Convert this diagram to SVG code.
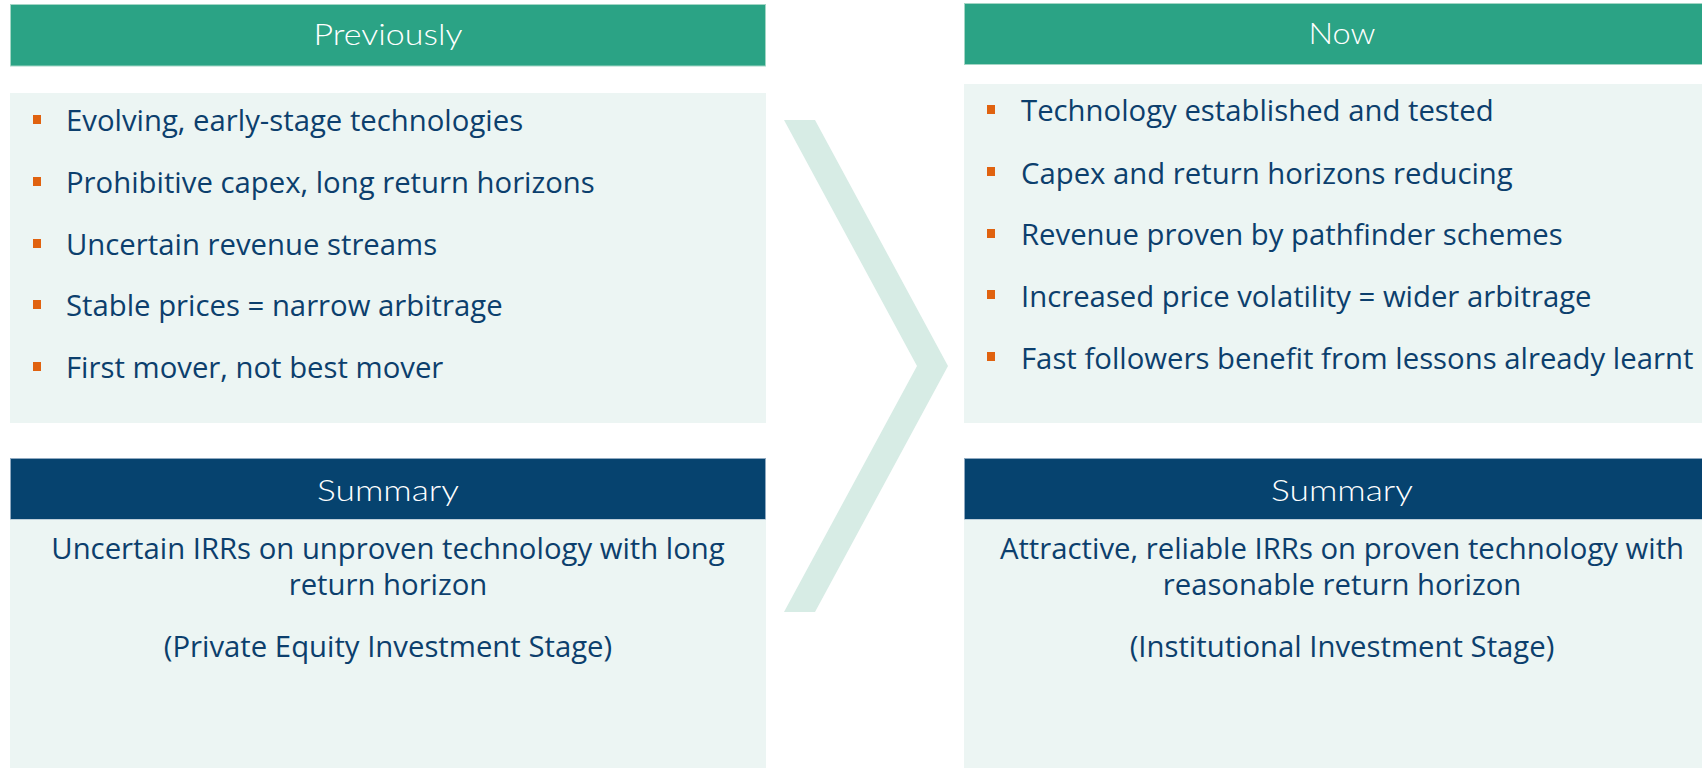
<svg xmlns="http://www.w3.org/2000/svg" width="1702" height="768" viewBox="0 0 1702 768">
<style>
.hdr{fill:#2BA385;stroke:#A3D6C5;stroke-width:1}
.sum{fill:#06436F;stroke:#8FA9C0;stroke-width:1}
.body{fill:#ECF5F3}
.ht{font-family:Lato,"Open Sans",sans-serif;font-weight:300;font-size:30px;fill:#FFFFFF;text-anchor:middle}
.bt{font-family:"Open Sans",sans-serif;font-size:29.3px;fill:#0C3F6D}
.st{font-family:"Open Sans",sans-serif;font-size:29.3px;fill:#0C3F6D;text-anchor:middle}
.bul{fill:#E0620F}
</style>
<rect width="1702" height="768" fill="#FFFFFF"/>
<g id="connectors">
<polygon points="784,120 815,120 948,366 815,612 784,612 917,366" fill="#D7ECE5"/>
</g>
<g id="previously">
<rect class="hdr" x="10.5" y="4.5" width="755" height="61.5"/>
<text class="ht" x="388" y="45" textLength="149" lengthAdjust="spacingAndGlyphs">Previously</text>
</g>
<g id="previously-list">
<rect class="body" x="10" y="93" width="756" height="330"/>
<rect class="bul" x="33" y="115" width="8" height="9"/>
<text class="bt" x="66" y="131">Evolving, early-stage technologies</text>
<rect class="bul" x="33" y="177" width="8" height="9"/>
<text class="bt" x="66" y="193">Prohibitive capex, long return horizons</text>
<rect class="bul" x="33" y="239" width="8" height="9"/>
<text class="bt" x="66" y="255">Uncertain revenue streams</text>
<rect class="bul" x="33" y="300" width="8" height="9"/>
<text class="bt" x="66" y="316">Stable prices = narrow arbitrage</text>
<rect class="bul" x="33" y="362" width="8" height="9"/>
<text class="bt" x="66" y="378">First mover, not best mover</text>
</g>
<g id="summary-left">
<rect class="sum" x="10.5" y="458.5" width="755" height="61"/>
<text class="ht" x="388" y="501" textLength="142" lengthAdjust="spacingAndGlyphs">Summary</text>
<rect class="body" x="10" y="519.5" width="756" height="249"/>
<text class="st" x="388" y="559">Uncertain IRRs on unproven technology with long</text>
<text class="st" x="388" y="595">return horizon</text>
<text class="st" x="388" y="657">(Private Equity Investment Stage)</text>
</g>
<g id="now">
<rect class="hdr" x="964.5" y="3.5" width="755" height="61"/>
<text class="ht" x="1342" y="44" textLength="67" lengthAdjust="spacingAndGlyphs">Now</text>
</g>
<g id="now-list">
<rect class="body" x="964" y="84" width="756" height="339"/>
<rect class="bul" x="987" y="105" width="8" height="9"/>
<text class="bt" x="1021" y="121">Technology established and tested</text>
<rect class="bul" x="987" y="167" width="8" height="9"/>
<text class="bt" x="1021" y="184">Capex and return horizons reducing</text>
<rect class="bul" x="987" y="229" width="8" height="9"/>
<text class="bt" x="1021" y="245">Revenue proven by pathfinder schemes</text>
<rect class="bul" x="987" y="290" width="8" height="9"/>
<text class="bt" x="1021" y="307">Increased price volatility = wider arbitrage</text>
<rect class="bul" x="987" y="352" width="8" height="9"/>
<text class="bt" x="1021" y="369">Fast followers benefit from lessons already learnt</text>
</g>
<g id="summary-right">
<rect class="sum" x="964.5" y="458.5" width="755" height="61"/>
<text class="ht" x="1342" y="501" textLength="142" lengthAdjust="spacingAndGlyphs">Summary</text>
<rect class="body" x="964" y="519.5" width="756" height="249"/>
<text class="st" x="1342" y="559">Attractive, reliable IRRs on proven technology with</text>
<text class="st" x="1342" y="595">reasonable return horizon</text>
<text class="st" x="1342" y="657">(Institutional Investment Stage)</text>
</g>
</svg>
